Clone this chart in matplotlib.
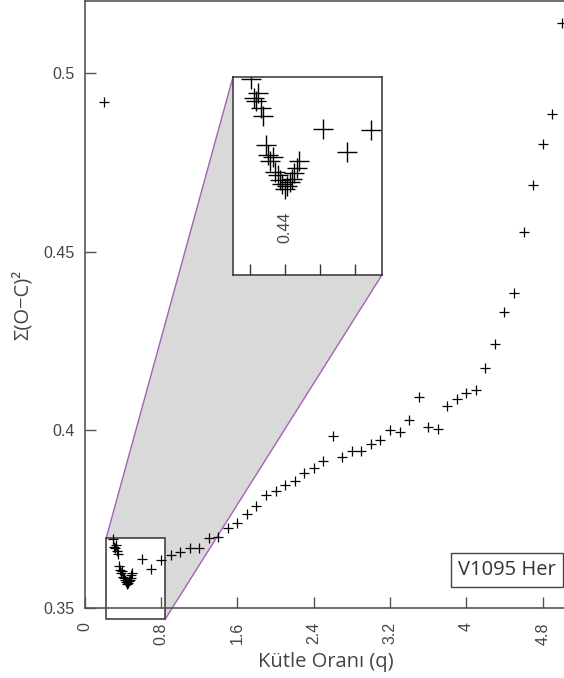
import matplotlib.pyplot as plt
from matplotlib.patches import Polygon, Rectangle

# mass ratio grid and sum of squared residuals
q_coarse = [0.2, 0.5, 0.6, 0.7, 0.8, 0.9, 1.0, 1.1, 1.2, 1.3, 1.4, 1.5, 1.6, 1.7,
            1.8, 1.9, 2.0, 2.1, 2.2, 2.3, 2.4, 2.5, 2.6, 2.7, 2.8, 2.9, 3.0, 3.1,
            3.2, 3.3, 3.4, 3.5, 3.6, 3.7, 3.8, 3.9, 4.0, 4.1, 4.2, 4.3, 4.4, 4.5,
            4.6, 4.7, 4.8, 4.9, 5.0]
ssr_coarse = [0.4920, 0.3600, 0.3637, 0.3610, 0.3636, 0.3649, 0.3658, 0.3669,
              0.3669, 0.3697, 0.3700, 0.3725, 0.3739, 0.3764, 0.3787, 0.3818,
              0.3829, 0.3846, 0.3857, 0.3879, 0.3893, 0.3913, 0.3983, 0.3924,
              0.3941, 0.3941, 0.3961, 0.3972, 0.4000, 0.3994, 0.4028, 0.4092,
              0.4008, 0.4003, 0.4067, 0.4087, 0.4105, 0.4111, 0.4173, 0.4240,
              0.4330, 0.4383, 0.4556, 0.4688, 0.4801, 0.4886, 0.5141]

q_fine = [0.30, 0.31, 0.32, 0.33, 0.34, 0.35, 0.36, 0.37, 0.38, 0.39, 0.40,
          0.41, 0.42, 0.43, 0.44, 0.45, 0.46, 0.47, 0.48, 0.49]
ssr_fine = [0.3694, 0.3672, 0.3668, 0.3678, 0.3660, 0.3652, 0.3618, 0.3607,
            0.3600, 0.3605, 0.3587, 0.3584, 0.3578, 0.3574, 0.3568, 0.3572,
            0.3576, 0.3580, 0.3586, 0.3592]

x_ticks = [0, 0.8, 1.6, 2.4, 3.2, 4, 4.8]
x_labels = ['0', '0.8', '1.6', '2.4', '3.2', '4', '4.8']
y_ticks = [0.35, 0.4, 0.45, 0.5]
y_labels = ['0.35', '0.4', '0.45', '0.5']
ins_ticks = [0.293, 0.44, 0.587, 0.734]

zoom_x = (0.224, 0.845)
zoom_y = (0.347, 0.3696)
ins_box = [1.554, 0.4435, 1.562, 0.0555]

q_all = q_coarse + q_fine
ssr_all = ssr_coarse + ssr_fine

txt = '#444444'
edge = '#555555'
purple = '#a561b5'

fig = plt.figure(figsize=(5.64, 6.78), dpi=100)
ax = fig.add_axes([0.1502, 0.1028, 0.8796, 0.8957])
ax.set_xlim(0, 5.2)
ax.set_ylim(0.35, 0.5203)

ax.plot(q_all, ssr_all, '+', color='black', markersize=7, mew=0.9, zorder=4)

ax.set_xticks(x_ticks)
ax.set_xticklabels(x_labels, rotation=90, va='top')
ax.set_yticks(y_ticks)
ax.set_yticklabels(y_labels)
ax.tick_params(direction='in', length=8, width=1, color=edge, labelcolor=txt,
               labelsize=11.5, labelfontfamily='Liberation Sans')
ax.tick_params(axis='x', pad=10)
ax.tick_params(axis='y', pad=7)
for s in ax.spines.values():
    s.set_color(edge)
    s.set_linewidth(1.2)

# zoom rectangle, shaded link and inset
x0, x1 = zoom_x
y0, y1 = zoom_y
bx, by, bw, bh = ins_box
shade = Polygon([(x0, y1), (bx, by + bh), (bx + bw, by), (x1, y0)], closed=True,
                facecolor='#d9d9d9', edgecolor='none', zorder=1.1, clip_on=False)
ax.add_patch(shade)
ax.plot([x0, bx], [y1, by + bh], color=purple, lw=1, zorder=1.2, clip_on=False)
ax.plot([x1, bx + bw], [y0, by], color=purple, lw=1, zorder=1.2, clip_on=False)
ax.add_patch(Rectangle((x0, y0), x1 - x0, y1 - y0, facecolor='white',
                       edgecolor='#333333', lw=1.1, zorder=1.5, clip_on=False))

axins = ax.inset_axes(ins_box, transform=ax.transData)
axins.plot(q_all, ssr_all, '+', color='black', markersize=14, mew=1.0)
axins.set_xlim(*zoom_x)
axins.set_ylim(*zoom_y)
axins.set_xticks(ins_ticks)
axins.set_xticklabels([])
axins.set_yticks([])
axins.tick_params(direction='in', length=8, width=1, color='#333333')
for s in axins.spines.values():
    s.set_color('#333333')
    s.set_linewidth(1.1)
axins.text(0.44, 0.24, '0.44', rotation=90, ha='center', va='center',
           transform=axins.get_xaxis_transform(), fontsize=11.5,
           family='Liberation Sans', color=txt)

ax.text(0.7526, 0.063, 'V1095 Her', transform=ax.transAxes, ha='left',
        va='center', fontsize=14.5, family='Open Sans', color='#333333',
        bbox=dict(boxstyle='square,pad=0.35', facecolor='white',
                  edgecolor='#444444', lw=1))

fig.text(326 / 564, 1 - 662 / 678, 'Kütle Oranı (q)', ha='center', va='center',
         fontsize=14.5, family='Open Sans', color=txt)
fig.text(22 / 564, 1 - 305 / 678, 'Σ(O−C)²', ha='center', va='center',
         rotation=90, fontsize=14.5, family=['Open Sans', 'DejaVu Sans'], color=txt)

fig.savefig('out.png', dpi=100)
